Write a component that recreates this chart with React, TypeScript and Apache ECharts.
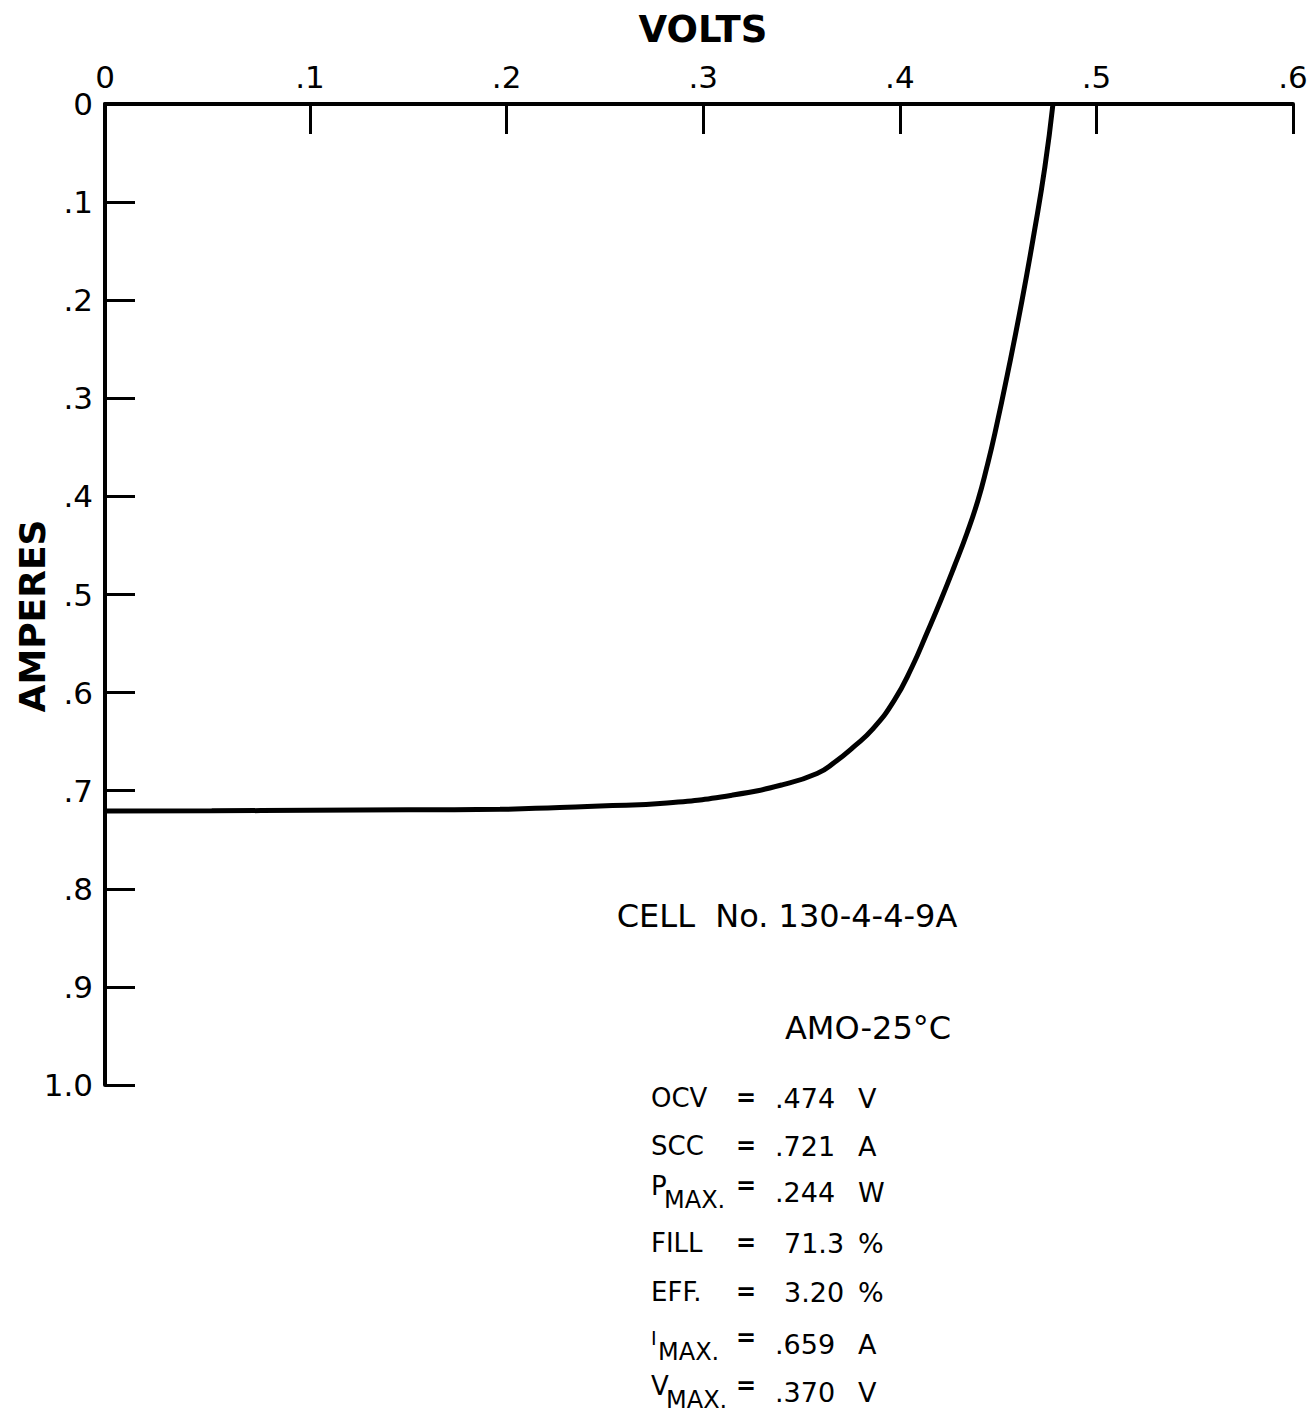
import React, { useEffect, useRef } from "react";
import * as echarts from "echarts";

// I-V curve (volts, amperes)
const volts = [-0.0043, 0.05, 0.1, 0.15, 0.1966, 0.227, 0.2475, 0.2816, 0.3151, 0.3406, 0.3579, 0.367, 0.3762, 0.3863, 0.397, 0.4062, 0.4138, 0.4209, 0.4276, 0.4342, 0.4398, 0.4443, 0.4484, 0.4555, 0.4622, 0.4683, 0.4738, 0.4779];
const amps = [0.7207, 0.7205, 0.72, 0.7195, 0.719, 0.717, 0.7156, 0.7125, 0.7044, 0.6938, 0.6825, 0.6708, 0.6558, 0.637, 0.6085, 0.5739, 0.5392, 0.5056, 0.472, 0.4373, 0.4037, 0.37, 0.3354, 0.2681, 0.1998, 0.1315, 0.0642, 0];

const xTickValues = [0.1, 0.2, 0.3, 0.4, 0.5, 0.6];
const xLabelValues = [-0.0043, 0.1, 0.2, 0.3, 0.4, 0.5, 0.6];

const cellText = "CELL  No. 130-4-4-9A";
const condText = "AMO-25°C";
const statLabels = ["OCV", "SCC", "P", "FILL", "EFF.", "I", "V"];
const statSubs = ["", "", "MAX.", "", "", "MAX.", "MAX."];
const statNumbers = [".474", ".721", ".244", "71.3", "3.20", ".659", ".370"];
const statUnits = ["V", "A", "W", "%", "%", "A", "V"];

const FONT = "DejaVu Sans";

export default function App() {
  const ref = useRef<HTMLDivElement>(null);
  useEffect(() => {
    if (!ref.current) return;
    const chart = echarts.init(ref.current, undefined, { renderer: "svg" });
    const data = volts.map((v, i) => [v, amps[i]]);

    const rowY = [1098, 1146, 1192, 1243, 1292, 1344, 1392];
    const graphics: any[] = [
      {
        type: "text", x: 703, y: 29,
        style: { text: "VOLTS", font: `bold 37px "${FONT}"`, fill: "#000", align: "center", verticalAlign: "middle" },
      },
      {
        type: "text", x: 32, y: 616, rotation: Math.PI / 2,
        style: { text: "AMPERES", font: `bold 36px "${FONT}"`, fill: "#000", align: "center", verticalAlign: "middle" },
      },
      {
        type: "text", x: 787, y: 916,
        style: { text: cellText, font: `32px "${FONT}"`, fill: "#000", align: "center", verticalAlign: "middle" },
      },
      {
        type: "text", x: 868, y: 1028,
        style: { text: condText, font: `32px "${FONT}"`, fill: "#000", align: "center", verticalAlign: "middle" },
      },
    ];
    statLabels.forEach((lab, i) => {
      const y = rowY[i];
      const hasSub = statSubs[i] !== "";
      graphics.push({
        type: "text", x: 651, y: hasSub ? y - 6 : y,
        style: { text: lab, font: `${hasSub && lab === "I" ? 19 : 26}px "${FONT}"`, fill: "#000", align: "left", verticalAlign: "middle" },
      });
      if (hasSub) {
        graphics.push({
          type: "text", x: lab === "P" ? 664 : lab === "I" ? 658 : 666, y: y + 8,
          style: { text: statSubs[i], font: `24px "${FONT}"`, fill: "#000", align: "left", verticalAlign: "middle" },
        });
      }
      graphics.push({
        type: "text", x: 746, y: hasSub ? y - 6 : y,
        style: { text: "=", font: `bold 24px "${FONT}"`, fill: "#000", align: "center", verticalAlign: "middle" },
      });
      const num = statNumbers[i];
      graphics.push({
        type: "text", x: num.startsWith(".") ? 775 : 784, y,
        style: { text: num, font: `27px "${FONT}"`, fill: "#000", align: "left", verticalAlign: "middle" },
      });
      graphics.push({
        type: "text", x: 858, y,
        style: { text: statUnits[i], font: `27px "${FONT}"`, fill: "#000", align: "left", verticalAlign: "middle" },
      });
    });

    chart.setOption({
      animation: false,
      backgroundColor: "#fff",
      grid: { left: 105, top: 104, width: 1188, height: 981, containLabel: false },
      xAxis: {
        type: "value",
        position: "top",
        min: -0.0043,
        max: 0.6,
        axisLine: { show: true, onZero: false, lineStyle: { color: "#000", width: 4 } },
        axisTick: { show: true, inside: true, length: 30, customValues: xTickValues, lineStyle: { color: "#000", width: 3 } },
        axisLabel: {
          show: true, customValues: xLabelValues, margin: 12,
          fontFamily: FONT, fontSize: 31, color: "#000",
          formatter: (v: number) => (v < 0.05 ? "0" : "." + Math.round(v * 10)),
        },
        splitLine: { show: false },
      },
      yAxis: {
        type: "value",
        inverse: true,
        min: 0,
        max: 1,
        interval: 0.1,
        axisLine: { show: true, onZero: false, lineStyle: { color: "#000", width: 4 } },
        axisTick: { show: true, inside: true, length: 30, lineStyle: { color: "#000", width: 3 } },
        axisLabel: {
          show: true, margin: 12, fontFamily: FONT, fontSize: 31, color: "#000",
          formatter: (v: number) => (v === 0 ? "0" : v >= 0.999 ? "1.0" : "." + Math.round(v * 10)),
        },
        splitLine: { show: false },
      },
      series: [
        {
          type: "line",
          data,
          smooth: 0.5,
          showSymbol: false,
          lineStyle: { color: "#000", width: 5 },
          z: 1,
        },
      ],
      graphic: graphics,
    });
    return () => chart.dispose();
  }, []);
  return <div ref={ref} style={{ position: "absolute", left: 0, top: 0, width: 1314, height: 1415 }} />;
}
